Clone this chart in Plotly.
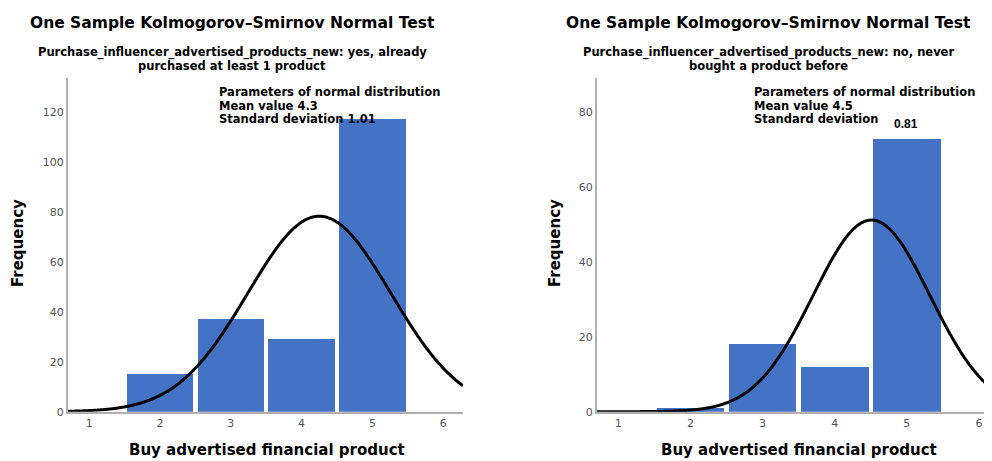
import numpy as np
import plotly.graph_objects as go

# page body has an 8px margin; compensate so that pixel positions match the 992x461 window
OFF = 8
W, H = 992 - OFF, 461 - OFF

categories = [1, 2, 3, 4, 5, 6]
freq_yes = [0, 15, 37, 29, 117, 0]
freq_no = [0, 1, 18, 12, 73, 0]
mean_yes, sd_yes = 4.25, 1.01
mean_no, sd_no = 4.51, 0.81
mean_labels = ["4.3", "4.5"]
sd_labels = ["1.01", "0.81"]

title_text = "One Sample Kolmogorov\u2013Smirnov Normal Test"
sub_yes = ["Purchase_influencer_advertised_products_new: yes, already", "purchased at least 1 product"]
sub_no = ["Purchase_influencer_advertised_products_new: no, never", "bought a product before"]
x_title = "Buy advertised financial product"
y_title = "Frequency"

BAR = "#4472C4"
FONT = "DejaVu Sans"

def px(x):
    return (x - OFF) / W

def py(y):
    return 1 - (y - OFF) / H

def normal_curve(counts, mean, sd, lo, hi):
    n = sum(counts)
    xs = np.linspace(lo, hi, 600)
    ys = n * np.exp(-0.5 * ((xs - mean) / sd) ** 2) / (sd * np.sqrt(2 * np.pi))
    return xs, ys

fig = go.Figure()

xr_l = [0.70, 6.28]
xr_r = [0.705, 6.18]

curve_line = dict(color="black", width=3, simplify=False, shape="spline")

fig.add_trace(go.Bar(x=categories, y=freq_yes, width=0.94, marker=dict(color=BAR, line=dict(width=0)),
                     xaxis="x", yaxis="y", showlegend=False))
cx, cy = normal_curve(freq_yes, mean_yes, sd_yes, xr_l[0], xr_l[1])
fig.add_trace(go.Scatter(x=cx, y=cy, mode="lines", line=curve_line,
                         xaxis="x", yaxis="y", showlegend=False))

fig.add_trace(go.Bar(x=categories, y=freq_no, width=0.94, marker=dict(color=BAR, line=dict(width=0)),
                     xaxis="x2", yaxis="y2", showlegend=False))
cx2, cy2 = normal_curve(freq_no, mean_no, sd_no, xr_r[0], 6.3)
fig.add_trace(go.Scatter(x=cx2, y=cy2, mode="lines", line=curve_line,
                         xaxis="x2", yaxis="y2", showlegend=False))

ydom = [py(411.7), py(78)]
axis_common = dict(showgrid=False, zeroline=False, showline=True, linecolor="#b0b0b0", linewidth=2,
                   ticks="", automargin=False, tickfont=dict(family=FONT, size=11, color="#555555"))

fig.update_layout(
    width=W, height=H,
    margin=dict(l=0, r=0, t=0, b=0),
    plot_bgcolor="white", paper_bgcolor="white",
    bargap=0,
    xaxis=dict(domain=[px(68), px(463)], range=xr_l, tickvals=categories, anchor="y", **axis_common),
    yaxis=dict(domain=ydom, range=[0, 133.5], tickvals=[0, 20, 40, 60, 80, 100, 120], anchor="x", **axis_common),
    xaxis2=dict(domain=[px(597), 1.0], range=xr_r, tickvals=categories, anchor="y2", **axis_common),
    yaxis2=dict(domain=ydom, range=[0, 89.2], tickvals=[0, 20, 40, 60, 80], anchor="x2", **axis_common),
)

ann = []

def add_text(text, x, y, size, xanchor="center", color="black", family=FONT, bold=True, angle=0):
    t = f"<b>{text}</b>" if bold else text
    ann.append(dict(text=t, x=px(x), y=py(y), xref="paper", yref="paper", showarrow=False,
                    xanchor=xanchor, yanchor="middle", textangle=angle,
                    font=dict(family=family, size=size, color=color)))

for cxp, sub in [(232, sub_yes), (768, sub_no)]:
    add_text(title_text, cxp, 23, 15.5)
    add_text(sub[0], cxp, 53, 11.5)
    add_text(sub[1], cxp, 66, 11.5)

for lx, i in [(217, 0), (752, 1)]:
    add_text("Parameters of normal distribution", lx, 92, 11.5, xanchor="left")
    add_text("Mean value " + mean_labels[i], lx, 106, 11.5, xanchor="left")

add_text("Standard deviation " + sd_labels[0], 217, 119, 11.5, xanchor="left")
add_text("Standard deviation", 752, 119, 11.5, xanchor="left")
add_text(sd_labels[1], 892, 124, 12, xanchor="left", family="Liberation Sans")

add_text(y_title, 18, 243, 15, angle=-90)
add_text(y_title, 555, 243, 15, angle=-90)
add_text(x_title, 267, 450, 15)
add_text(x_title, 799, 450, 15)

fig.update_layout(annotations=ann)
fig.write_html("out.html")
